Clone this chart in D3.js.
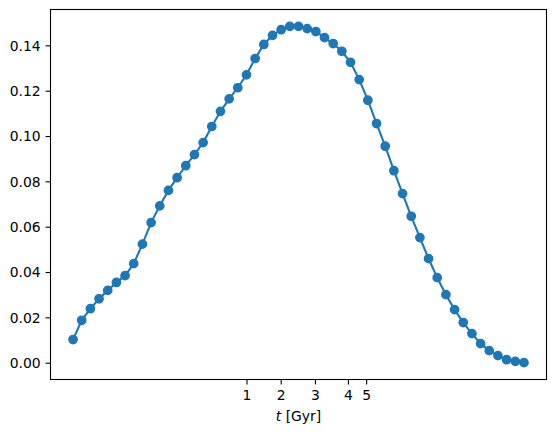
<!DOCTYPE html>
<html>
<head>
<meta charset="utf-8">
<script src="https://cdn.jsdelivr.net/npm/d3@7"></script>
<style>
  body { margin: 0; background: #fff; }
  svg text { font-family: "DejaVu Sans", sans-serif; font-size: 13.9px; fill: #000; }
</style>
</head>
<body>
<div id="chart"></div>
<script>
// values, one per step
var values = [
  0.0102, 0.0187, 0.0238, 0.0282, 0.0319, 0.0354, 0.0384, 0.0437, 0.0523, 0.0618,
  0.0692, 0.0760, 0.0816, 0.0869, 0.0918, 0.0971, 0.1042, 0.1109, 0.1164, 0.1213,
  0.1270, 0.1342, 0.1404, 0.1444, 0.1469, 0.1484, 0.1484, 0.1474, 0.1461, 0.1434,
  0.1408, 0.1374, 0.1325, 0.1249, 0.1158, 0.1055, 0.0955, 0.0847, 0.0746, 0.0646,
  0.0552, 0.0459, 0.0375, 0.0300, 0.0234, 0.0177, 0.0128, 0.0084, 0.0053, 0.0031,
  0.0013, 0.0006, 0.0000
];
var steps = values.map(function(d, i) { return i; });

// x ticks sit at these step positions, labelled in Gyr
var xTickAt = [20, 23.95, 27.9, 31.7, 33.8];
var xTickLabels = ["1", "2", "3", "4", "5"];
var yTicks = [0, 0.02, 0.04, 0.06, 0.08, 0.10, 0.12, 0.14];

var width = 556,
    height = 436,
    margin = {top: 9.5, right: 9.5, bottom: 56.5, left: 50.5};

var svg = d3.select("#chart")
  .append("svg")
    .attr("width", width)
    .attr("height", height);

var n = steps.length - 1;
var x = d3.scaleLinear()
  .domain([-0.05 * n, 1.05 * n])
  .range([margin.left, width - margin.right]);

var yMax = d3.max(values), yMin = d3.min(values);
var pad = (yMax - yMin) * 0.05;
var y = d3.scaleLinear()
  .domain([yMin - pad, yMax + pad])
  .range([height - margin.bottom, margin.top]);

// y axis
var yAxis = svg.append("g")
  .attr("transform", "translate(" + margin.left + ",0)")
  .call(d3.axisLeft(y).tickValues(yTicks).tickFormat(d3.format(".2f")).tickSize(4.9).tickPadding(4.9));
yAxis.select(".domain").remove();
yAxis.selectAll("line").attr("stroke-width", 1.1);
yAxis.selectAll("text").attr("dy", "0.34em").style("font-size", "13.9px").style("font-family", "DejaVu Sans");

// x axis
var xAxis = svg.append("g")
  .attr("transform", "translate(0," + (height - margin.bottom) + ")")
  .call(d3.axisBottom(x).tickValues(xTickAt)
    .tickFormat(function(d, i) { return xTickLabels[i]; })
    .tickSize(4.9).tickPadding(4.9));
xAxis.select(".domain").remove();
xAxis.selectAll("line").attr("stroke-width", 1.1);
xAxis.selectAll("text").attr("dy", "0.76em").style("font-size", "13.9px").style("font-family", "DejaVu Sans");

// frame
svg.append("rect")
  .attr("x", margin.left)
  .attr("y", margin.top)
  .attr("width", width - margin.left - margin.right)
  .attr("height", height - margin.top - margin.bottom)
  .attr("fill", "none")
  .attr("stroke", "black")
  .attr("stroke-width", 1.1);

// x label
var lab = svg.append("text")
  .attr("x", (margin.left + width - margin.right) / 2)
  .attr("y", 421)
  .attr("text-anchor", "middle");
lab.append("tspan").style("font-style", "italic").text("t");
lab.append("tspan").text(" [Gyr]");

var line = d3.line()
  .x(function(d, i) { return x(steps[i]); })
  .y(function(d) { return y(d); });

svg.append("path")
  .datum(values)
  .attr("d", line)
  .attr("fill", "none")
  .attr("stroke", "#1f77b4")
  .attr("stroke-width", 2.1);

svg.selectAll("circle")
  .data(values)
  .enter()
  .append("circle")
  .attr("cx", function(d, i) { return x(steps[i]); })
  .attr("cy", function(d) { return y(d); })
  .attr("r", 4.17)
  .attr("fill", "#1f77b4")
  .attr("stroke", "#1f77b4")
  .attr("stroke-width", 1.39);
</script>
</body>
</html>
